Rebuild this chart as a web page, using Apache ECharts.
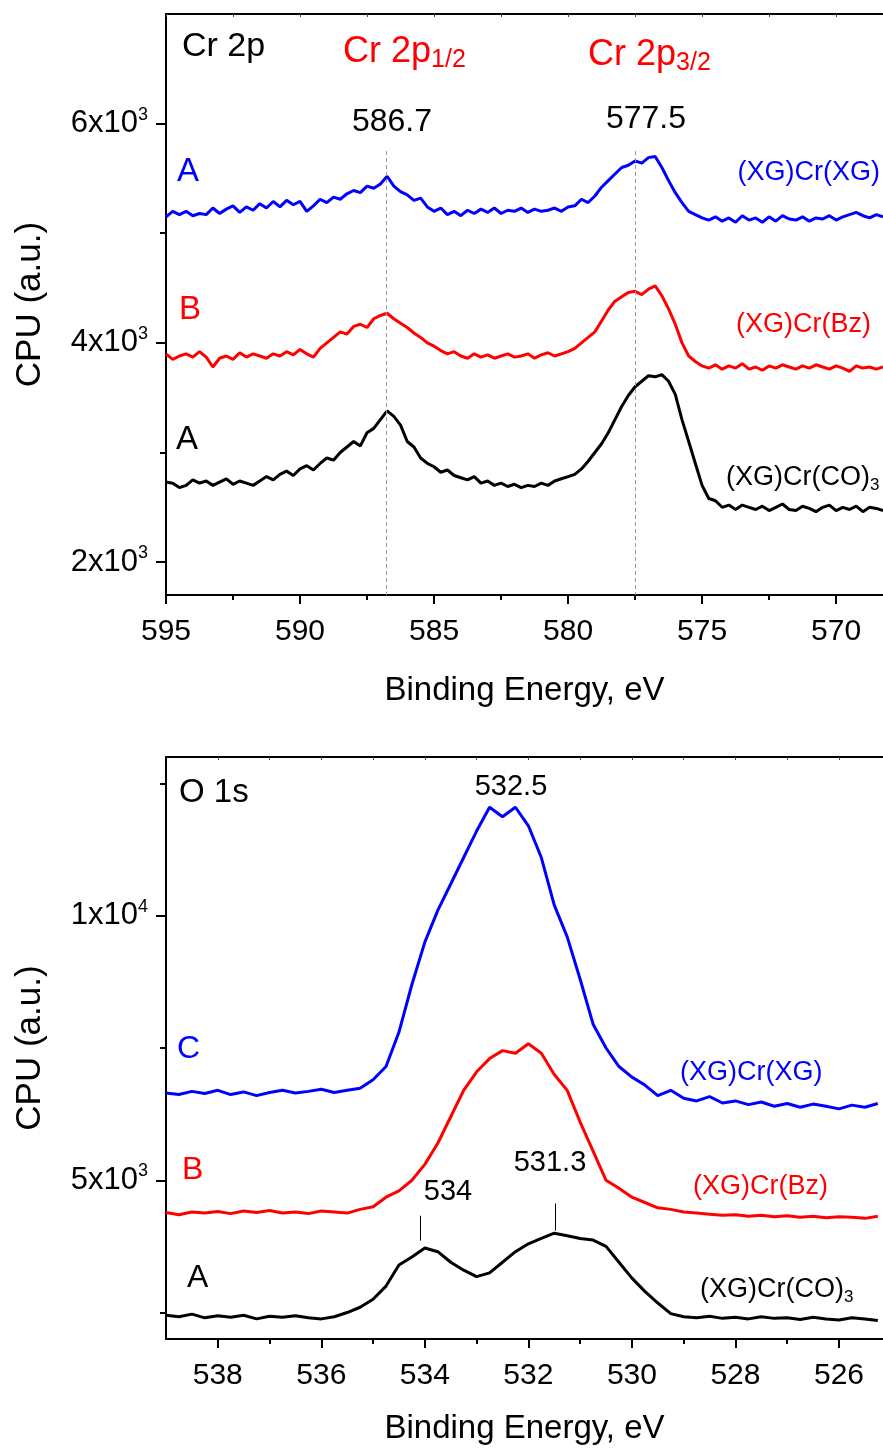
<!DOCTYPE html>
<html>
<head>
<meta charset="utf-8">
<script src="https://cdn.jsdelivr.net/npm/echarts@6/dist/echarts.min.js"></script>
<style>
html,body{margin:0;padding:0;background:#fff}
#main{width:883px;height:1450px}
</style>
</head>
<body>
<div id="main"></div>
<script>
// ---- Cr 2p panel (top) ----
const crEnergy = [
  595,594.75,594.5,594.25, 594,593.75,593.5,593.25, 593,592.75,592.5,592.25,
  592,591.75,591.5,591.25, 591,590.75,590.5,590.25, 590,589.75,589.5,589.25,
  589,588.75,588.5,588.25, 588,587.75,587.5,587.25, 587,586.75,586.5,586.25,
  586,585.75,585.5,585.25, 585,584.75,584.5,584.25, 584,583.75,583.5,583.25,
  583,582.75,582.5,582.25, 582,581.75,581.5,581.25, 581,580.75,580.5,580.25,
  580,579.75,579.5,579.25, 579,578.75,578.5,578.25, 578,577.75,577.5,577.25,
  577,576.75,576.5,576.25, 576,575.75,575.5,575.25, 575,574.75,574.5,574.25,
  574,573.75,573.5,573.25, 573,572.75,572.5,572.25, 572,571.75,571.5,571.25,
  571,570.75,570.5,570.25, 570,569.75,569.5,569.25, 569,568.75,568.5,568.25
];
// (XG)Cr(XG)
const crXGXG = [
  5150,5200,5170,5200, 5160,5180,5170,5230, 5180,5220,5250,5190,
  5240,5210,5270,5230, 5290,5240,5300,5260, 5290,5200,5250,5310,
  5280,5330,5310,5360, 5390,5370,5430,5410, 5450,5520,5430,5380,
  5350,5300,5320,5240, 5200,5230,5170,5200, 5160,5210,5180,5220,
  5190,5230,5180,5210, 5200,5230,5190,5220, 5200,5210,5230,5200,
  5240,5250,5310,5280, 5340,5420,5480,5540, 5600,5620,5660,5640,
  5690,5700,5600,5480, 5370,5280,5200,5170, 5140,5120,5150,5110,
  5140,5100,5160,5120, 5140,5100,5150,5110, 5160,5130,5120,5150,
  5110,5140,5130,5160, 5120,5150,5170,5190, 5160,5140,5170,5150
];
// (XG)Cr(Bz)
const crXGBz = [
  3900,3850,3880,3900, 3870,3920,3870,3780, 3860,3880,3850,3910,
  3870,3900,3880,3860, 3900,3880,3920,3890, 3940,3900,3870,3950,
  4000,4050,4100,4080, 4150,4170,4140,4220, 4250,4270,4220,4180,
  4140,4090,4050,4000, 3970,3930,3900,3920, 3880,3860,3900,3870,
  3890,3860,3880,3900, 3870,3880,3900,3860, 3890,3910,3880,3900,
  3920,3950,4000,4050, 4100,4200,4300,4380, 4420,4460,4470,4440,
  4490,4520,4430,4310, 4170,4000,3880,3830, 3790,3770,3800,3760,
  3790,3770,3810,3760, 3780,3750,3790,3770, 3800,3780,3760,3790,
  3770,3800,3780,3760, 3790,3770,3740,3790, 3770,3780,3760,3780
];
// (XG)Cr(CO)3
const crXGCO = [
  2730,2720,2680,2700, 2750,2720,2740,2700, 2730,2760,2710,2740,
  2720,2700,2740,2780, 2750,2800,2830,2790, 2850,2880,2840,2900,
  2950,2930,3000,3050, 3100,3060,3180,3220, 3300,3380,3330,3250,
  3100,3050,2950,2900, 2870,2820,2840,2790, 2770,2750,2780,2720,
  2740,2700,2720,2690, 2710,2680,2700,2690, 2720,2700,2740,2760,
  2780,2800,2850,2920, 3000,3080,3180,3300, 3420,3520,3600,3650,
  3700,3690,3710,3650, 3530,3300,3100,2900, 2700,2580,2560,2500,
  2520,2480,2520,2500, 2480,2510,2470,2500, 2530,2480,2470,2510,
  2490,2460,2500,2520, 2470,2500,2480,2510, 2460,2500,2490,2470
];
const crXMajor = [570, 575, 580, 585, 590, 595];
const crXMinor = [572.5, 577.5, 582.5, 587.5, 592.5];
const crYMajor = [2000, 4000, 6000];
const crYMinor = [3000, 5000];
const crPeakLines = [586.8, 577.5];

// ---- O 1s panel (bottom) ----
const oEnergy = [
  539,538.75,538.5,538.25, 538,537.75,537.5,537.25, 537,536.75,536.5,536.25,
  536,535.75,535.5,535.25, 535,534.75,534.5,534.25, 534,533.75,533.5,533.25,
  533,532.75,532.5,532.25, 532,531.75,531.5,531.25, 531,530.75,530.5,530.25,
  530,529.75,529.5,529.25, 529,528.75,528.5,528.25, 528,527.75,527.5,527.25,
  527,526.75,526.5,526.25, 526,525.75,525.5,525.25
];
const oXGXG = [
  6650,6620,6680,6640, 6700,6620,6670,6600, 6660,6700,6650,6680,
  6720,6660,6700,6740, 6900,7150,7800,8700, 9500,10100,10600,11100,
  11600,12050,11870,12050, 11700,11100,10200,9600, 8800,7950,7500,7150,
  6950,6800,6600,6700, 6550,6500,6580,6460, 6500,6430,6480,6400,
  6450,6380,6440,6400, 6350,6420,6380,6450
];
const oXGBz = [
  4390,4350,4400,4380, 4410,4370,4420,4390, 4430,4380,4400,4370,
  4420,4400,4380,4450, 4500,4680,4800,5000, 5300,5700,6200,6700,
  7050,7300,7450,7400, 7580,7400,7000,6700, 6100,5550,5000,4850,
  4680,4580,4480,4450, 4400,4380,4360,4340, 4350,4320,4340,4310,
  4330,4300,4320,4290, 4310,4300,4280,4320
];
const oXGCO = [
  2450,2420,2470,2400, 2440,2410,2450,2380, 2430,2410,2440,2400,
  2380,2420,2500,2600, 2750,3000,3400,3550, 3720,3650,3450,3300,
  3180,3250,3450,3650, 3800,3900,4000,3950, 3900,3870,3750,3450,
  3150,2900,2680,2480, 2420,2400,2430,2390, 2410,2380,2420,2390,
  2400,2370,2410,2380, 2360,2400,2380,2350
];
const oXMajor = [526, 528, 530, 532, 534, 536, 538];
const oXMinor = [527, 529, 531, 533, 535, 537];
const oYMajor = [5000, 10000];
const oYMinor = [2500, 7500, 12500];
const oMarks = [[534.08, 4330, 3860], [531.49, 4560, 4050]];

const FONT = '"Liberation Sans", Arial, sans-serif';
const BLUE = '#0000ff', RED = '#ff0000', BLACK = '#000000';

function pairs(xs, ys) {
  return xs.map((x, i) => [x, ys[i]]);
}

function sciLabel(v) {
  const exp = Math.floor(Math.log10(v) + 1e-9);
  const m = Math.round(v / Math.pow(10, exp));
  return '{m|' + m + 'x10}{e|' + exp + '}';
}

const lineW = 2;

function xAxes(grid, min, max, major, minor, gap) {
  return [
    {
      gridIndex: grid, type: 'value', position: 'bottom', inverse: true, min: min, max: max,
      axisLine: { show: true, onZero: false, lineStyle: { color: BLACK, width: lineW } },
      axisTick: { show: true, customValues: major, length: 9, lineStyle: { color: BLACK, width: lineW } },
      axisLabel: { customValues: major, fontSize: 30, fontFamily: FONT, color: BLACK, margin: 22 },
      splitLine: { show: false },
      name: 'Binding Energy, eV', nameLocation: 'middle', nameGap: gap,
      nameTextStyle: { fontSize: 33, fontFamily: FONT, color: BLACK }
    },
    {
      gridIndex: grid, type: 'value', position: 'bottom', inverse: true, min: min, max: max,
      axisLine: { show: false, onZero: false },
      axisTick: { show: true, customValues: minor, length: 5, lineStyle: { color: BLACK, width: lineW } },
      axisLabel: { show: false }, splitLine: { show: false }
    },
    {
      gridIndex: grid, type: 'value', position: 'top', inverse: true, min: min, max: max,
      axisLine: { show: true, onZero: false, lineStyle: { color: BLACK, width: lineW } },
      axisTick: { show: true, inside: true, customValues: major.concat(minor), length: 3, lineStyle: { color: '#444', width: 1 } },
      axisLabel: { show: false }, splitLine: { show: false }
    }
  ];
}

function yAxes(grid, min, max, major, minor) {
  return [
    {
      gridIndex: grid, type: 'value', position: 'left', min: min, max: max,
      axisLine: { show: true, onZero: false, lineStyle: { color: BLACK, width: lineW } },
      axisTick: { show: true, customValues: major, length: 10, lineStyle: { color: BLACK, width: lineW } },
      axisLabel: {
        customValues: major, margin: 18, color: BLACK, formatter: sciLabel,
        rich: {
          m: { fontSize: 31, fontFamily: FONT, color: BLACK },
          e: { fontSize: 18, fontFamily: FONT, color: BLACK, padding: [0, 0, 18, 0] }
        }
      },
      splitLine: { show: false },
      name: 'CPU (a.u.)', nameLocation: 'middle', nameGap: 118, nameRotate: 90,
      nameTextStyle: { fontSize: 35, fontFamily: FONT, color: BLACK }
    },
    {
      gridIndex: grid, type: 'value', position: 'left', min: min, max: max,
      axisLine: { show: false, onZero: false },
      axisTick: { show: true, customValues: minor, length: 6, lineStyle: { color: BLACK, width: lineW } },
      axisLabel: { show: false }, splitLine: { show: false }
    }
  ];
}

function curve(name, xs, ys, color, xi, yi, extra) {
  return Object.assign({
    name: name, type: 'line', xAxisIndex: xi, yAxisIndex: yi,
    data: pairs(xs, ys), showSymbol: false, symbol: 'none',
    lineStyle: { color: color, width: 3 }, itemStyle: { color: color },
    z: 3
  }, extra || {});
}

function txt(x, y, text, color, size, align, rich) {
  return {
    type: 'text', x: x, y: y, z: 10,
    style: {
      text: text, fill: color, fontSize: size, fontFamily: FONT,
      align: align || 'left', verticalAlign: 'middle', rich: rich
    }
  };
}

const subRich = (color) => ({
  sub: { fontSize: 25, fontFamily: FONT, fill: color, padding: [16, 0, 0, 0] }
});

const chart = echarts.init(document.getElementById('main'), null, { renderer: 'canvas' });

chart.setOption({
  animation: false,
  backgroundColor: '#fff',
  grid: [
    { left: 166, top: 14, width: 717, height: 581 },
    { left: 166, top: 757, width: 717, height: 582 }
  ],
  xAxis: xAxes(0, 568.25, 595, crXMajor, crXMinor, 79)
    .concat(xAxes(1, 525.15, 539, oXMajor, oXMinor, 73)),
  yAxis: yAxes(0, 1700, 7000, crYMajor, crYMinor)
    .concat(yAxes(1, 2000, 13000, oYMajor, oYMinor)),
  series: [
    curve('(XG)Cr(XG)', crEnergy, crXGXG, BLUE, 0, 0, {
      markLine: {
        silent: true, symbol: 'none', label: { show: false },
        lineStyle: { color: '#999', width: 1, type: [4, 3] },
        data: crPeakLines.map(e => [{ coord: [e, 5750] }, { coord: [e, 1700] }])
      }
    }),
    curve('(XG)Cr(Bz)', crEnergy, crXGBz, RED, 0, 0),
    curve('(XG)Cr(CO)3', crEnergy, crXGCO, BLACK, 0, 0),
    curve('(XG)Cr(XG) O', oEnergy, oXGXG, BLUE, 3, 2),
    curve('(XG)Cr(Bz) O', oEnergy, oXGBz, RED, 3, 2),
    curve('(XG)Cr(CO)3 O', oEnergy, oXGCO, BLACK, 3, 2, {
      markLine: {
        silent: true, symbol: 'none', label: { show: false },
        lineStyle: { color: BLACK, width: 1, type: 'solid' },
        data: oMarks.map(m => [{ coord: [m[0], m[1]] }, { coord: [m[0], m[2]] }])
      }
    })
  ],
  graphic: [
    // top panel
    txt(182, 47, 'Cr 2p', BLACK, 34),
    txt(343, 52, 'Cr 2p{sub|1/2}', RED, 36, 'left', subRich(RED)),
    txt(588, 55, 'Cr 2p{sub|3/2}', RED, 36, 'left', subRich(RED)),
    txt(392, 122, '586.7', BLACK, 32, 'center'),
    txt(646, 119, '577.5', BLACK, 32, 'center'),
    txt(177, 172, 'A', BLUE, 33),
    txt(179, 310, 'B', RED, 33),
    txt(176, 440, 'A', BLACK, 33),
    txt(880, 173, '(XG)Cr(XG)', BLUE, 27, 'right'),
    txt(871, 325, '(XG)Cr(Bz)', RED, 27, 'right'),
    txt(726, 478, '(XG)Cr(CO){sub|3}', BLACK, 27, 'left', {
      sub: { fontSize: 17, fontFamily: FONT, fill: BLACK, padding: [14, 0, 0, 0] }
    }),
    // bottom panel
    txt(179, 793, 'O 1s', BLACK, 33),
    txt(511, 787, '532.5', BLACK, 29, 'center'),
    txt(177, 1049, 'C', BLUE, 32),
    txt(182, 1170, 'B', RED, 32),
    txt(187, 1278, 'A', BLACK, 32),
    txt(680, 1073, '(XG)Cr(XG)', BLUE, 27),
    txt(693, 1187, '(XG)Cr(Bz)', RED, 27),
    txt(700, 1290, '(XG)Cr(CO){sub|3}', BLACK, 27, 'left', {
      sub: { fontSize: 17, fontFamily: FONT, fill: BLACK, padding: [14, 0, 0, 0] }
    }),
    txt(448, 1192, '534', BLACK, 29, 'center'),
    txt(550, 1163, '531.3', BLACK, 29, 'center')
  ]
});
</script>
</body>
</html>
